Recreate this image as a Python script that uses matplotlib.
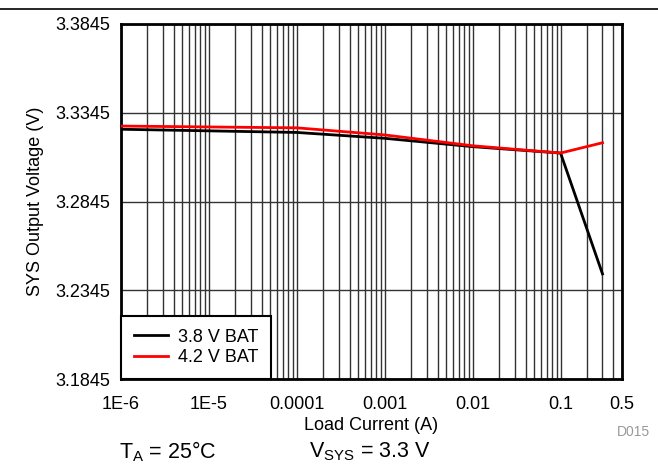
import matplotlib
matplotlib.use("Agg")
import matplotlib.pyplot as plt
from matplotlib.ticker import FixedLocator, LogLocator, NullFormatter
from matplotlib.lines import Line2D

plt.rcParams['font.family'] = ['Liberation Sans', 'DejaVu Sans']

load_current = [1e-6, 1e-5, 1e-4, 1e-3, 1e-2, 0.1, 0.3]
v_38 = [3.3252, 3.3243, 3.3234, 3.3201, 3.3154, 3.3118, 3.2437]
v_42 = [3.3270, 3.3265, 3.3260, 3.3220, 3.3159, 3.3118, 3.3176]
series_labels = ["3.8 V BAT", "4.2 V BAT"]
x_ticks = [1e-6, 1e-5, 1e-4, 1e-3, 1e-2, 0.1, 0.5]
x_tick_labels = ["1E-6", "1E-5", "0.0001", "0.001", "0.01", "0.1", "0.5"]
y_ticks = [3.1845, 3.2345, 3.2845, 3.3345, 3.3845]
y_tick_labels = ["3.1845", "3.2345", "3.2845", "3.3345", "3.3845"]

W, H = 658, 468
fig = plt.figure(figsize=(W / 100, H / 100), dpi=100)
ax = fig.add_axes([121 / W, 1 - 379 / H, (622 - 121) / W, (379 - 24) / H])

ax.set_xscale('log')
ax.set_xlim(1e-6, 0.5)
ax.set_ylim(3.1845, 3.3845)

grid_col = '#333333'
ax.xaxis.set_major_locator(FixedLocator(x_ticks))
ax.set_xticklabels(x_tick_labels)
ax.xaxis.set_minor_locator(LogLocator(base=10, subs=[2, 3, 4, 5, 6, 7, 8, 9], numticks=20))
ax.xaxis.set_minor_formatter(NullFormatter())
ax.set_yticks(y_ticks)
ax.set_yticklabels(y_tick_labels)
ax.grid(True, which='major', color=grid_col, lw=1.0)
ax.grid(True, which='minor', axis='x', color=grid_col, lw=1.0)
ax.tick_params(which='both', length=0, labelsize=13, colors='black')
ax.tick_params(axis='y', pad=8)
ax.tick_params(axis='x', pad=12)
ax.set_axisbelow(True)

for s in ax.spines.values():
    s.set_linewidth(2)
    s.set_color('black')

ax.plot(load_current, v_38, color='black', lw=2, label=series_labels[0], zorder=3)
ax.plot(load_current, v_42, color='red', lw=2, label=series_labels[1], zorder=3)

leg = ax.legend(loc='lower left', fontsize=13, frameon=True, fancybox=False,
                borderaxespad=0, handlelength=1.9, handletextpad=0.55,
                labelspacing=0.2, borderpad=0.7, framealpha=1)
leg.get_frame().set_edgecolor('black')
leg.get_frame().set_linewidth(1.5)
leg.set_zorder(5)
for lh in leg.get_lines():
    lh.set_linewidth(2)

ax.set_xlabel("Load Current (A)", fontsize=13, labelpad=3)
ax.set_ylabel("SYS Output Voltage (V)", fontsize=13, labelpad=8)

fig.add_artist(Line2D([0, 1], [1 - 8.5 / H, 1 - 8.5 / H], color='black', lw=1.2,
                      transform=fig.transFigure))
fig.text(168 / W, 1 - 452 / H, r"T$_\mathregular{A}$ = 25°C", fontsize=15.5,
         ha='center', va='center')
fig.text(370 / W, 1 - 452 / H, r"V$_\mathregular{SYS}$ = 3.3 V", fontsize=15.5,
         ha='center', va='center')
fig.text(633 / W, 1 - 432 / H, "D015", fontsize=10, color='#999999',
         ha='center', va='center')

fig.savefig("out.png", dpi=100)
